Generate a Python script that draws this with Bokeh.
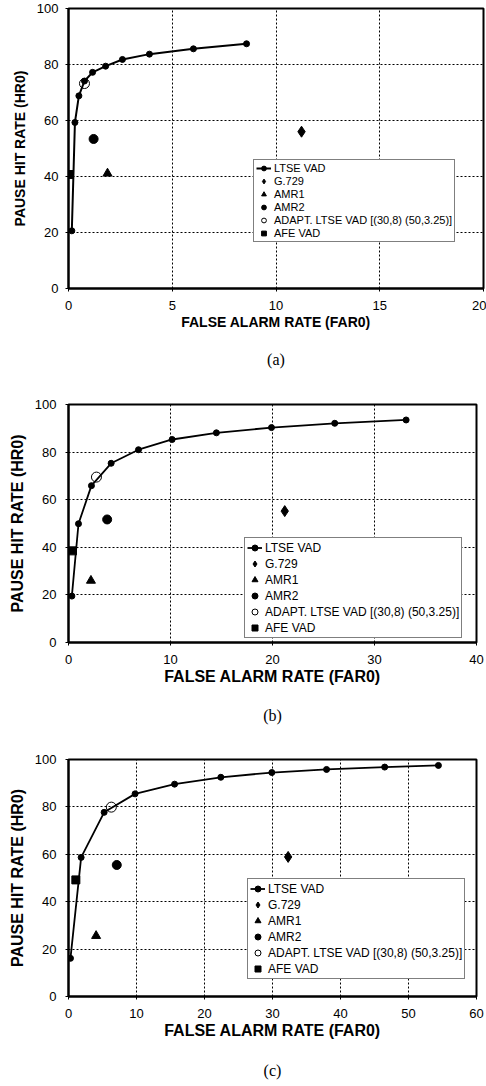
from bokeh.plotting import figure
from bokeh.models import Legend, LegendItem, Title, FixedTicker, Range1d
from bokeh.layouts import column
from bokeh.embed import file_html
from bokeh.resources import INLINE

# ---------------- data ----------------
legend_labels = ["LTSE VAD", "G.729", "AMR1", "AMR2",
                 "ADAPT. LTSE VAD [(30,8) (50,3.25)]", "AFE VAD"]
x_title = "FALSE ALARM RATE (FAR0)"
y_title = "PAUSE HIT RATE (HR0)"
captions = ["(a)", "(b)", "(c)"]
y_ticks = [0, 20, 40, 60, 80, 100]

# panel (a)
a_x_ticks = [0, 5, 10, 15, 20]
a_ltse_far = [0.16, 0.31, 0.50, 0.77, 1.16, 1.79, 2.60, 3.90, 6.02, 8.58]
a_ltse_hr = [20.6, 59.3, 68.8, 74.1, 77.2, 79.4, 81.8, 83.7, 85.6, 87.4]
a_g729_far, a_g729_hr = [11.23], [56.0]
a_amr1_far, a_amr1_hr = [1.88], [41.1]
a_amr2_far, a_amr2_hr = [1.21], [53.4]
a_adapt_far, a_adapt_hr = [0.77], [73.2]
a_afe_far, a_afe_hr = [0.05], [40.7]

# panel (b)
b_x_ticks = [0, 10, 20, 30, 40]
b_ltse_far = [0.33, 0.98, 2.25, 4.18, 6.86, 10.16, 14.5, 19.9, 26.1, 33.1]
b_ltse_hr = [19.5, 49.9, 65.9, 75.3, 81.0, 85.3, 88.1, 90.3, 92.1, 93.5]
b_g729_far, b_g729_hr = [21.2], [55.2]
b_amr1_far, b_amr1_hr = [2.2], [26.0]
b_amr2_far, b_amr2_hr = [3.79], [51.7]
b_adapt_far, b_adapt_hr = [2.74], [69.5]
b_afe_far, b_afe_hr = [0.39], [38.5]

# panel (c)
c_x_ticks = [0, 10, 20, 30, 40, 50, 60]
c_ltse_far = [0.29, 1.86, 5.24, 9.79, 15.6, 22.4, 29.9, 37.95, 46.5, 54.4]
c_ltse_hr = [16.1, 58.7, 77.7, 85.5, 89.6, 92.5, 94.5, 95.8, 96.8, 97.5]
c_g729_far, c_g729_hr = [32.3], [58.9]
c_amr1_far, c_amr1_hr = [4.06], [25.6]
c_amr2_far, c_amr2_hr = [7.1], [55.5]
c_adapt_far, c_adapt_hr = [6.3], [79.9]
c_afe_far, c_afe_hr = [1.08], [49.2]

FONT = "Liberation Sans"


def panel(cap, xmax, xticks, ltse, g729, amr1, amr2, adapt, afe,
          fw, fh, bl, br, bt, bb, title_size, leg_font, leg_h, leg_sp, leg_pad,
          leg_loc, cap_standoff, lw):
    p = figure(frame_width=fw, frame_height=fh, output_backend="svg",
               toolbar_location=None, x_range=Range1d(0, xmax),
               y_range=Range1d(0, 100), min_border_left=bl,
               min_border_right=br, min_border_top=bt, min_border_bottom=bb)
    p.background_fill_color = "white"
    p.border_fill_color = "white"
    p.outline_line_color = "black"
    p.outline_line_width = 2

    p.xaxis.ticker = FixedTicker(ticks=xticks)
    p.yaxis.ticker = FixedTicker(ticks=y_ticks)
    for ax in (p.xaxis, p.yaxis):
        ax.axis_line_color = "black"
        ax.axis_line_width = 2
        ax.major_tick_out = 3
        ax.major_tick_in = 0
        ax.minor_tick_out = 0
        ax.minor_tick_in = 0
        ax.major_tick_line_color = "black"
        ax.major_label_text_font = FONT
        ax.major_label_text_font_size = "13px"
        ax.major_label_text_color = "black"
        ax.axis_label_text_font = FONT
        ax.axis_label_text_font_style = "bold"
        ax.axis_label_text_font_size = title_size
        ax.axis_label_text_color = "black"
    p.xaxis.axis_label = x_title
    p.yaxis.axis_label = y_title
    p.xaxis.major_label_standoff = 9
    p.xaxis.axis_label_standoff = 1
    p.yaxis.major_label_standoff = 7 if bl < 65 else 9
    p.yaxis.axis_label_standoff = 6

    for g in (p.xgrid, p.ygrid):
        g.grid_line_color = "black"
        g.grid_line_dash = "2 2"
        g.grid_line_width = 1

    r_line = p.line(ltse[0], ltse[1], line_color="black", line_width=lw)
    r_dots = p.scatter(ltse[0], ltse[1], marker="circle", size=6,
                       fill_color="black", line_color="black")
    r_g = p.scatter(g729[0], g729[1], marker="diamond", size=11,
                    fill_color="black", line_color="black")
    r_t = p.scatter(amr1[0], amr1[1], marker="triangle", size=9,
                    fill_color="black", line_color="black")
    r_c = p.scatter(amr2[0], amr2[1], marker="circle", size=9,
                    fill_color="black", line_color="black")
    r_o = p.scatter(adapt[0], adapt[1], marker="circle", size=10,
                    fill_alpha=0, line_color="black", line_width=1)
    r_s = p.scatter(afe[0], afe[1], marker="square", size=8,
                    fill_color="black", line_color="black")

    items = [LegendItem(label=legend_labels[0], renderers=[r_line, r_dots]),
             LegendItem(label=legend_labels[1], renderers=[r_g]),
             LegendItem(label=legend_labels[2], renderers=[r_t]),
             LegendItem(label=legend_labels[3], renderers=[r_c]),
             LegendItem(label=legend_labels[4], renderers=[r_o]),
             LegendItem(label=legend_labels[5], renderers=[r_s])]
    leg = Legend(items=items, location=leg_loc)
    leg.label_text_font = FONT
    leg.label_text_font_size = leg_font
    leg.label_text_color = "black"
    leg.label_height = leg_h
    leg.glyph_height = leg_h
    leg.glyph_width = 15
    leg.label_standoff = 3
    leg.spacing = leg_sp
    leg.padding = leg_pad
    leg.margin = 0
    leg.border_line_color = "black"
    leg.border_line_width = 1
    leg.background_fill_color = "white"
    leg.background_fill_alpha = 1
    p.add_layout(leg, "center")

    t = Title(text=cap, align="center", text_font="Liberation Serif",
              text_font_style="normal", text_font_size="16px",
              text_color="black", standoff=cap_standoff)
    p.add_layout(t, "below")
    return p


pa = panel(captions[0], 20, a_x_ticks, (a_ltse_far, a_ltse_hr),
           (a_g729_far, a_g729_hr), (a_amr1_far, a_amr1_hr),
           (a_amr2_far, a_amr2_hr), (a_adapt_far, a_adapt_hr),
           (a_afe_far, a_afe_hr),
           415, 280, 63, 8, 8, 97, "14px", "11px", 12, 1, 2,
           (185, 46), 33, 2)
pb = panel(captions[1], 40, b_x_ticks, (b_ltse_far, b_ltse_hr),
           (b_g729_far, b_g729_hr), (b_amr1_far, b_amr1_hr),
           (b_amr2_far, b_amr2_hr), (b_adapt_far, b_adapt_hr),
           (b_afe_far, b_afe_hr),
           408, 238, 68, 10, 19, 98, "16px", "12px", 15, 1, 2,
           (176, 4), 34, 1.8)
pc = panel(captions[2], 60, c_x_ticks, (c_ltse_far, c_ltse_hr),
           (c_g729_far, c_g729_hr), (c_amr1_far, c_amr1_hr),
           (c_amr2_far, c_amr2_hr), (c_adapt_far, c_adapt_hr),
           (c_afe_far, c_afe_hr),
           408, 237, 68, 10, 19, 90, "16px", "12px", 15, 1, 2,
           (179, 17), 37, 1.8)

layout = column(pa, pb, pc, spacing=0)
open("out.html", "w").write(file_html(layout, INLINE))
